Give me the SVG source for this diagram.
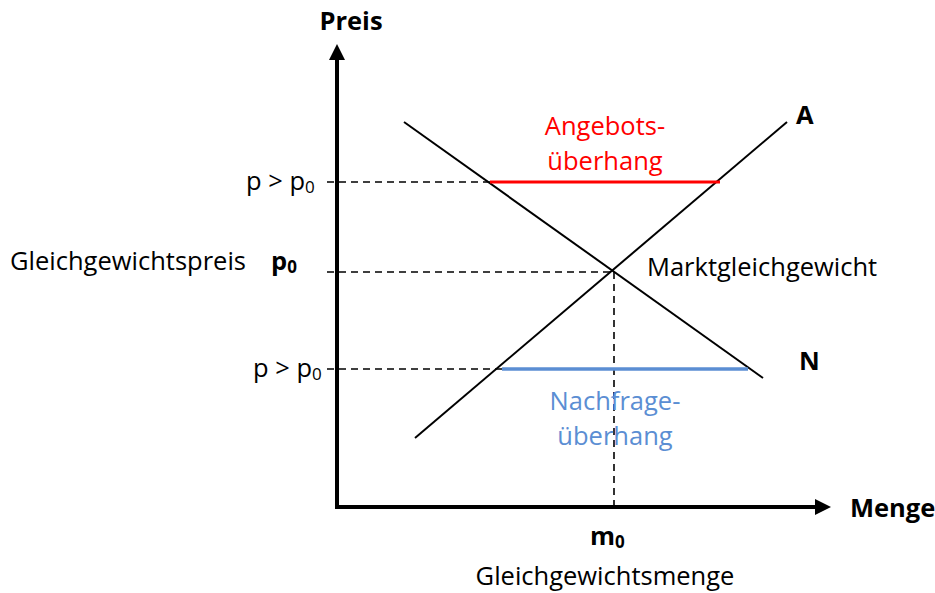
<svg xmlns="http://www.w3.org/2000/svg" width="935" height="593" viewBox="0 0 935 593">
<style>
text{font-family:"Open Sans","Lato","Liberation Sans",sans-serif;font-size:25.5px;fill:#000}
.b{font-weight:bold}
.dash{stroke:#000;stroke-width:1.6;stroke-dasharray:7,5;fill:none}
.curve{stroke:#000;stroke-width:2;fill:none}
.axis{stroke:#000;stroke-width:4;fill:none}
</style>
<defs>
<marker id="ah" viewBox="0 0 10 10" refX="0" refY="5" markerWidth="4.5" markerHeight="4" orient="auto" markerUnits="strokeWidth">
<path d="M0,0 L10,5 L0,10 z" fill="#000"/>
</marker>
</defs>
<g id="connectors">
<line class="dash" x1="327" y1="182" x2="490" y2="182"/>
<line class="dash" x1="327" y1="272" x2="614" y2="272"/>
<line class="dash" x1="327" y1="369" x2="502" y2="369"/>
<line class="dash" x1="614" y1="272" x2="614" y2="507"/>
<line class="curve" x1="415" y1="438" x2="787" y2="122"/>
<line class="curve" x1="404" y1="122" x2="763" y2="378"/>
<line stroke="#ff0000" stroke-width="3" x1="490" y1="182" x2="720" y2="182"/>
<line stroke="#5b8ed3" stroke-width="3.5" x1="502" y1="369" x2="748" y2="369"/>
<line class="axis" x1="337" y1="509" x2="337" y2="60" marker-end="url(#ah)"/>
<line class="axis" x1="335" y1="507" x2="815" y2="507" marker-end="url(#ah)"/>
</g>
<g id="axis-y-label"><text class="b" x="351" y="30" text-anchor="middle">Preis</text></g>
<g id="axis-x-label"><text class="b" x="850" y="517">Menge</text></g>
<g id="p-high"><text x="246" y="190">p &gt; p<tspan font-size="17" dy="3">0</tspan></text></g>
<g id="p-low"><text x="253" y="377">p &gt; p<tspan font-size="17" dy="3">0</tspan></text></g>
<g id="p0"><text x="10" y="270">Gleichgewichtspreis</text><text class="b" x="271" y="270">p<tspan font-size="17" dy="3">0</tspan></text></g>
<g id="m0"><text class="b" x="590" y="545">m<tspan font-size="17" dy="3">0</tspan></text></g>
<g id="menge0"><text x="605" y="585" text-anchor="middle">Gleichgewichtsmenge</text></g>
<g id="A"><text class="b" x="796" y="124">A</text></g>
<g id="N"><text class="b" x="799" y="370">N</text></g>
<g id="angebot"><text x="605" y="135" text-anchor="middle" style="fill:#ff0000">Angebots-</text><text x="605" y="170" text-anchor="middle" style="fill:#ff0000">überhang</text></g>
<g id="nachfrage"><text x="615" y="410" text-anchor="middle" style="fill:#5b8ed3">Nachfrage-</text><text x="615" y="445" text-anchor="middle" style="fill:#5b8ed3">überhang</text></g>
<g id="gleichgewicht"><text x="647" y="276">Marktgleichgewicht</text></g>
</svg>
